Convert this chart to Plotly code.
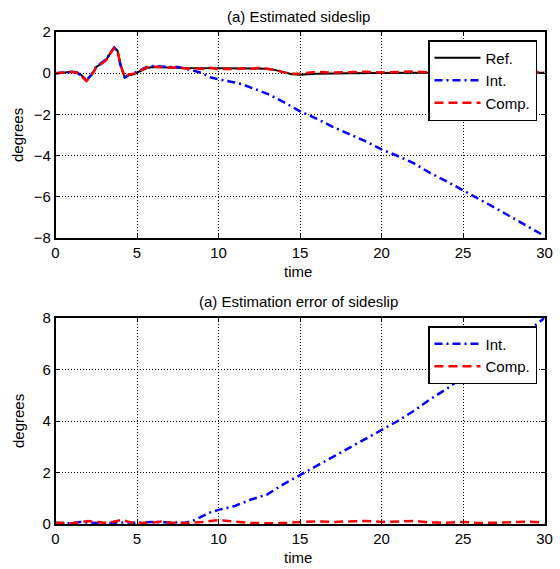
import plotly.graph_objects as go

# ---------------- data ----------------
t_ref = [0, 0.5, 1.0, 1.3, 1.6, 1.9, 2.2, 2.5, 2.8, 3.1, 3.4, 3.6, 3.8, 4.0, 4.25, 4.5, 4.8, 5.2,
         5.6, 6.0, 6.5, 7.0, 8.0, 9.0, 10.0, 11.0, 12.0, 12.5, 13.0, 13.5, 14.0, 14.5, 15.0,
         16.0, 18.0, 20.0, 22.0, 24.0, 26.0, 28.0, 30.0]
ref = [0.0, 0.02, 0.08, 0.05, -0.1, -0.35, -0.1, 0.3, 0.45, 0.65, 1.0, 1.25, 1.1, 0.4, -0.22,
       -0.1, -0.05, 0.1, 0.25, 0.3, 0.3, 0.28, 0.25, 0.25, 0.25, 0.25, 0.25, 0.25, 0.22, 0.15,
       0.05, -0.05, -0.08, -0.03, 0.0, 0.02, 0.02, 0.02, 0.02, 0.02, 0.02]

t_int = [0, 0.5, 1.0, 1.3, 1.6, 1.9, 2.2, 2.5, 2.8, 3.1, 3.4, 3.6, 3.8, 4.0, 4.25, 4.5, 4.8, 5.2,
         5.6, 6.0, 6.5, 7.0, 7.5, 8.0, 8.5, 9.0, 9.5, 10.0, 10.5, 11.0, 11.5, 12.0, 12.5, 13.0,
         13.5, 14.0, 15.0, 16.0, 17.0, 18.0, 19.0, 20.0, 21.0, 22.0, 23.0, 24.0, 25.0, 26.0,
         27.0, 28.0, 29.0, 30.0]
est_int = [0.0, 0.03, 0.07, 0.04, -0.12, -0.33, -0.08, 0.32, 0.47, 0.66, 1.02, 1.24, 1.05, 0.35,
           -0.2, -0.08, 0.0, 0.15, 0.3, 0.35, 0.32, 0.3, 0.3, 0.22, 0.12, 0.0, -0.2, -0.3, -0.36,
           -0.45, -0.55, -0.7, -0.85, -1.0, -1.2, -1.4, -1.85, -2.2, -2.6, -2.95, -3.3, -3.7,
           -4.02, -4.38, -4.85, -5.25, -5.7, -6.12, -6.55, -7.0, -7.45, -7.9]

t_comp = [0, 0.5, 1.0, 1.3, 1.6, 1.9, 2.2, 2.5, 2.8, 3.1, 3.4, 3.6, 3.8, 4.0, 4.25, 4.5, 4.8, 5.2,
          5.6, 6.0, 6.5, 7.0, 7.5, 8.0, 8.5, 9.0, 9.5, 10.0, 10.5, 11.0, 11.5, 12.0, 12.5, 13.0,
          13.5, 14.0, 14.5, 15.0, 16.0, 17.0, 18.0, 19.0, 20.0, 21.0, 22.0, 23.0, 24.0, 25.0,
          26.0, 27.0, 28.0, 29.0, 30.0]
est_comp = [0.0, 0.03, 0.06, 0.02, -0.15, -0.38, -0.12, 0.28, 0.47, 0.62, 1.02, 1.22, 1.08, 0.38,
            -0.18, -0.06, -0.02, 0.12, 0.28, 0.32, 0.3, 0.26, 0.3, 0.22, 0.24, 0.2, 0.26, 0.18,
            0.22, 0.2, 0.24, 0.2, 0.26, 0.22, 0.16, 0.04, -0.03, -0.02, 0.06, 0.03, 0.05, 0.07,
            0.04, 0.06, 0.08, 0.03, 0.05, 0.07, 0.04, 0.06, 0.05, 0.07, 0.06]

t_err_int = [0, 1.0, 1.5, 2.0, 3.0, 4.0, 5.0, 6.0, 7.0, 8.0, 8.5, 9.0, 9.5, 10.0, 11.0, 12.0,
             13.0, 13.5, 14.0, 15.0, 16.0, 17.0, 18.0, 19.0, 20.0, 21.0, 22.0, 23.0, 24.0, 25.0,
             26.0, 27.0, 28.0, 29.0, 30.0]
err_int = [0.04, 0.03, 0.08, 0.05, 0.03, 0.06, 0.05, 0.08, 0.06, 0.05, 0.15, 0.3, 0.45, 0.55, 0.7,
           0.95, 1.15, 1.35, 1.55, 1.9, 2.25, 2.6, 2.95, 3.3, 3.65, 4.0, 4.4, 4.85, 5.25, 5.7,
           6.15, 6.6, 7.05, 7.5, 8.0]

t_err_comp = [0, 1.0, 1.5, 2.0, 2.5, 3.0, 3.5, 4.0, 4.3, 4.7, 5.0, 6.0, 6.5, 7.0, 8.0, 9.0, 10.0,
              10.5, 11.0, 12.0, 13.0, 14.0, 15.0, 16.0, 17.0, 18.0, 19.0, 20.0, 21.0, 22.0, 23.0,
              24.0, 25.0, 26.0, 27.0, 28.0, 29.0, 30.0]
err_comp = [0.05, 0.03, 0.06, 0.12, 0.08, 0.05, 0.08, 0.15, 0.12, 0.05, 0.04, 0.06, 0.1, 0.05,
            0.04, 0.08, 0.15, 0.12, 0.08, 0.04, 0.03, 0.04, 0.08, 0.1, 0.08, 0.1, 0.12, 0.08, 0.1,
            0.12, 0.06, 0.05, 0.08, 0.04, 0.05, 0.07, 0.09, 0.06]

x_ticks = [0, 5, 10, 15, 20, 25, 30]
y_ticks_top = [-8, -6, -4, -2, 0, 2]
y_ticks_bot = [0, 2, 4, 6, 8]

# ---------------- figure ----------------
W, H = 560, 569
FONT = "Liberation Sans, Arial, sans-serif"
BLUE_DASH = "8px,4px,2px,4px"
RED_DASH = "9px,5px"

fig = go.Figure()
fig.add_trace(go.Scatter(x=t_ref, y=ref, mode="lines", name="Ref.",
                         line=dict(color="black", width=2), xaxis="x", yaxis="y",
                         legend="legend"))
fig.add_trace(go.Scatter(x=t_int, y=est_int, mode="lines", name="Int.",
                         line=dict(color="#0000FF", width=2.5, dash=BLUE_DASH),
                         xaxis="x", yaxis="y", legend="legend"))
fig.add_trace(go.Scatter(x=t_comp, y=est_comp, mode="lines", name="Comp.",
                         line=dict(color="#FF0000", width=2.5, dash=RED_DASH),
                         xaxis="x", yaxis="y", legend="legend"))
fig.add_trace(go.Scatter(x=t_err_int, y=err_int, mode="lines", name="Int.",
                         line=dict(color="#0000FF", width=2.5, dash=BLUE_DASH),
                         xaxis="x2", yaxis="y2", legend="legend2"))
fig.add_trace(go.Scatter(x=t_err_comp, y=err_comp, mode="lines", name="Comp.",
                         line=dict(color="#FF0000", width=2.5, dash=RED_DASH),
                         xaxis="x2", yaxis="y2", legend="legend2"))


def px_x(p):
    return p / W


def px_y(p):
    return 1 - p / H


axis_common = dict(showline=True, linecolor="black", linewidth=1.5, mirror="ticks",
                   ticks="inside", ticklen=4, tickcolor="black", tickwidth=1,
                   showgrid=True, gridcolor="black", gridwidth=1, griddash="1px,2px",
                   zeroline=False, automargin=False,
                   tickfont=dict(family=FONT, size=15, color="black"))

legend_common = dict(xanchor="right", yanchor="top", bgcolor="white",
                     bordercolor="black", borderwidth=1.5, itemwidth=46,
                     font=dict(family=FONT, size=15, color="black"))

xdom = [px_x(55.5), px_x(544.5)]
fig.update_layout(
    width=W, height=H,
    margin=dict(l=0, r=0, t=0, b=0),
    paper_bgcolor="white", plot_bgcolor="white",
    font=dict(family=FONT, size=15, color="black"),
    xaxis=dict(domain=xdom, range=[0, 30], tickvals=x_ticks, anchor="y", **axis_common),
    yaxis=dict(domain=[px_y(238), px_y(32)], range=[-8, 2], tickvals=y_ticks_top,
               anchor="x", **axis_common),
    xaxis2=dict(domain=xdom, range=[0, 30], tickvals=x_ticks, anchor="y2", **axis_common),
    yaxis2=dict(domain=[px_y(524), px_y(318)], range=[0, 8], tickvals=y_ticks_bot,
                anchor="x2", **axis_common),
    legend=dict(x=px_x(537), y=px_y(40), **legend_common),
    legend2=dict(x=px_x(537), y=px_y(326), **legend_common),
    showlegend=True,
)

annots = [
    ("(a) Estimated sideslip", 298, 16, 0),
    ("time", 298, 271, 0),
    ("degrees", 18, 135, -90),
    ("(a) Estimation error of sideslip", 298, 301, 0),
    ("time", 298, 557, 0),
    ("degrees", 18, 421, -90),
]
for text, x, y, ang in annots:
    fig.add_annotation(text=text, x=px_x(x), y=px_y(y), xref="paper", yref="paper",
                       xanchor="center", yanchor="middle", showarrow=False,
                       textangle=ang, font=dict(family=FONT, size=15, color="black"))

fig.write_html("out.html")
